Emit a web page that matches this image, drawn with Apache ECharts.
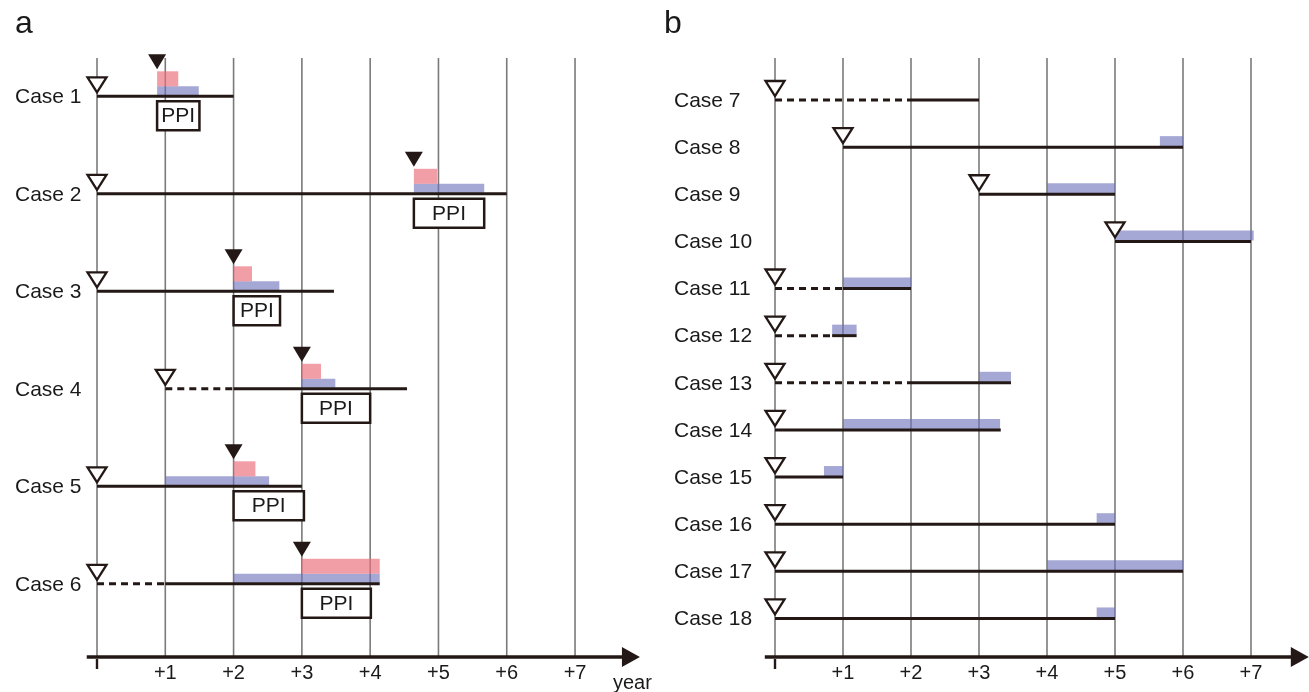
<!DOCTYPE html>
<html><head><meta charset="utf-8">
<script src="https://cdn.jsdelivr.net/npm/echarts@6/dist/echarts.min.js"></script>
<style>html,body{margin:0;padding:0;background:#fff}#c{width:1309px;height:692px}</style>
</head><body><div id="c"></div><script>
// ---------- data ----------
const yearTicks = [0, 1, 2, 3, 4, 5, 6, 7];
const tickLabels = ['', '+1', '+2', '+3', '+4', '+5', '+6', '+7'];
const panelTitles = ['a', 'b'];
const axisName = 'year';
const boxText = 'PPI';

// Panel a
const casesA = ['Case 1', 'Case 2', 'Case 3', 'Case 4', 'Case 5', 'Case 6'];
const startA = [0, 0, 0, 1, 0, 0];            // open triangle
const solidStartA = [0, 0, 0, 2, 0, 1];       // end of dashed part
const endA = [2, 6, 3.47, 4.54, 3, 4.14];      // end of solid line
const eventA = [0.88, 4.64, 2, 3, 2, 3];       // filled triangle / red start / PPI box start
const redEndA = [1.19, 4.98, 2.27, 3.28, 2.32, 4.14];
const blueStartA = [0.88, 4.64, 2, 3, 1, 2];
const blueEndA = [1.49, 5.67, 2.67, 3.49, 2.52, 4.14];
const boxEndA = [1.5, 5.67, 2.68, 4, 3.03, 4.01];

// Panel b
const casesB = ['Case 7', 'Case 8', 'Case 9', 'Case 10', 'Case 11', 'Case 12',
                'Case 13', 'Case 14', 'Case 15', 'Case 16', 'Case 17', 'Case 18'];
const startB = [0, 1, 3, 5, 0, 0, 0, 0, 0, 0, 0, 0];
const solidStartB = [2, 1, 3, 5, 1, 0.84, 2, 0, 0, 0, 0, 0];
const endB = [3, 6, 5, 7, 2, 1.2, 3.47, 3.32, 1, 5, 6, 5];
const blueStartB = [null, 5.66, 4, 5, 1, 0.84, 3, 1, 0.72, 4.73, 4, 4.73];
const blueEndB = [null, 6, 5, 7.04, 2, 1.2, 3.47, 3.31, 1, 5, 6, 5];

// ---------- styles ----------
const INK = '#231815';
const GRID = '#7a7a7a';
const RED = 'rgba(236,112,125,0.68)';
const BLUE = 'rgba(110,115,185,0.62)';
const FONT = "'Liberation Sans', Arial, Helvetica, sans-serif";

function txt(text, x, y, size, align, valign) {
  return {type: 'text', style: {text: text, x: x, y: y, font: size + 'px ' + FONT, fill: '#1a1a1a',
    align: align, verticalAlign: valign, textAlign: align, textVerticalAlign: valign}};
}
function seg(x1, y1, x2, y2, color, lw, dash) {
  return {type: 'line', shape: {x1: x1, y1: y1, x2: x2, y2: y2},
    style: {stroke: color, lineWidth: lw, lineDash: dash || null}};
}
function rect(x1, x2, y1, y2, fill, stroke, lw) {
  return {type: 'rect', shape: {x: x1, y: y1, width: x2 - x1, height: y2 - y1},
    style: {fill: fill, stroke: stroke || null, lineWidth: lw || 0}};
}
function openTri(x, y) {
  return {type: 'polygon', shape: {points: [[x - 9.5, y - 19], [x + 9.5, y - 19], [x, y - 4]]},
    style: {fill: '#fff', stroke: INK, lineWidth: 2.3}};
}
function filledTri(x, y) {
  return {type: 'polygon', shape: {points: [[x - 9, y - 42], [x + 9, y - 42], [x, y - 27]]},
    style: {fill: INK}};
}

// ---------- axes extents (layout) ----------
const axA = {xMin: -0.15, xMax: 7.95, yMin: -0.393, yMax: 5.751};
const axB = {xMin: -0.15, xMax: 7.85, yMin: -0.891, yMax: 11.818};

function gridSeries(idx, ax) {
  return {
    type: 'custom', coordinateSystem: 'cartesian2d', xAxisIndex: idx, yAxisIndex: idx, z: 1,
    data: yearTicks.map(t => [t, 0]),
    renderItem: function (params, api) {
      const t = yearTicks[params.dataIndex];
      const top = api.coord([t, ax.yMin]);
      const bot = api.coord([t, ax.yMax]);
      const ch = [seg(top[0], top[1], bot[0], bot[1], GRID, 1.6)];
      if (tickLabels[params.dataIndex] === '') {
        ch.push(seg(bot[0], bot[1] + 2, bot[0], bot[1] + 12, INK, 2.4));
      } else {
        ch.push(txt(tickLabels[params.dataIndex], bot[0], bot[1] + 16, 20, 'center', 'middle'));
      }
      return {type: 'group', children: ch};
    }
  };
}

function axisSeries(idx, ax, withName) {
  return {
    type: 'custom', coordinateSystem: 'cartesian2d', xAxisIndex: idx, yAxisIndex: idx, z: 5,
    data: [[0, 0]],
    renderItem: function (params, api) {
      const a = api.coord([ax.xMin, ax.yMax]);
      const b = api.coord([ax.xMax, ax.yMax]);
      const ch = [
        seg(a[0], a[1], b[0] - 16, b[1], INK, 3.4),
        {type: 'polygon', shape: {points: [[b[0] - 18, b[1] - 10], [b[0] - 18, b[1] + 10], [b[0], b[1]]]},
          style: {fill: INK}}
      ];
      if (withName) ch.push(txt(axisName, b[0] - 27, b[1] + 26, 20, 'left', 'middle'));
      const tl = api.coord([ax.xMin, ax.yMin]);
      ch.push(txt(panelTitles[idx], idx === 0 ? 15 : 664, 24, 32, 'left', 'middle'));
      return {type: 'group', children: ch};
    }
  };
}

const seriesA = {
  type: 'custom', coordinateSystem: 'cartesian2d', xAxisIndex: 0, yAxisIndex: 0, z: 3,
  data: casesA.map((c, i) => [startA[i], i]),
  renderItem: function (params, api) {
    const i = params.dataIndex;
    const X = v => api.coord([v, i])[0];
    const y = api.coord([0, i])[1];
    const ch = [];
    ch.push(rect(X(blueStartA[i]), X(blueEndA[i]), y - 10, y - 1, BLUE));
    ch.push(rect(X(eventA[i]), X(redEndA[i]), y - 25, y - 10, RED));
    if (solidStartA[i] > startA[i]) {
      ch.push(seg(X(startA[i]), y, X(solidStartA[i]), y, INK, 3, [7, 5]));
    }
    ch.push(seg(X(solidStartA[i]), y, X(endA[i]), y, INK, 3));
    ch.push(filledTri(X(eventA[i]), y));
    ch.push(openTri(X(startA[i]), y));
    ch.push(rect(X(eventA[i]), X(boxEndA[i]), y + 5, y + 34, '#fff', INK, 2.5));
    ch.push(txt(boxText, (X(eventA[i]) + X(boxEndA[i])) / 2, y + 20, 21, 'center', 'middle'));
    ch.push(txt(casesA[i], 15, y + 1, 21, 'left', 'middle'));
    return {type: 'group', children: ch};
  }
};

const seriesB = {
  type: 'custom', coordinateSystem: 'cartesian2d', xAxisIndex: 1, yAxisIndex: 1, z: 3,
  data: casesB.map((c, i) => [startB[i], i]),
  renderItem: function (params, api) {
    const i = params.dataIndex;
    const X = v => api.coord([v, i])[0];
    const y = api.coord([0, i])[1];
    const ch = [];
    if (blueStartB[i] !== null) {
      ch.push(rect(X(blueStartB[i]), X(blueEndB[i]), y - 11, y - 1, BLUE));
    }
    if (solidStartB[i] > startB[i]) {
      ch.push(seg(X(startB[i]), y, X(solidStartB[i]), y, INK, 3, [7, 5]));
    }
    ch.push(seg(X(solidStartB[i]), y, X(endB[i]), y, INK, 3));
    ch.push(openTri(X(startB[i]), y));
    ch.push(txt(casesB[i], 674, y + 1, 21, 'left', 'middle'));
    return {type: 'group', children: ch};
  }
};

const chart = echarts.init(document.getElementById('c'), null, {renderer: 'canvas'});
chart.setOption({
  animation: false,
  backgroundColor: '#fff',
  grid: [
    {left: 86.76, width: 553.15, top: 58, height: 599},
    {left: 764.8, width: 544, top: 58, height: 599}
  ],
  xAxis: [
    {type: 'value', gridIndex: 0, min: axA.xMin, max: axA.xMax, show: false},
    {type: 'value', gridIndex: 1, min: axB.xMin, max: axB.xMax, show: false}
  ],
  yAxis: [
    {type: 'value', gridIndex: 0, min: axA.yMin, max: axA.yMax, inverse: true, show: false},
    {type: 'value', gridIndex: 1, min: axB.yMin, max: axB.yMax, inverse: true, show: false}
  ],
  series: [
    gridSeries(0, axA), gridSeries(1, axB),
    seriesA, seriesB,
    axisSeries(0, axA, true), axisSeries(1, axB, false)
  ]
});
</script></body></html>
